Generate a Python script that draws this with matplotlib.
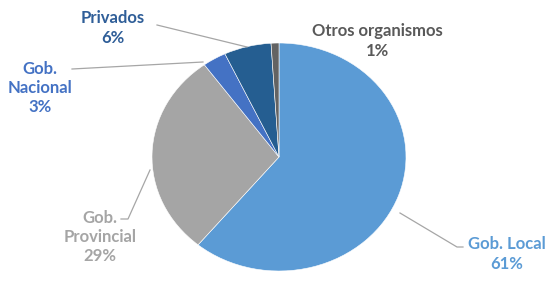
import matplotlib.pyplot as plt

# === DATI ===
categorie = ['Gob. Local', 'Gob. Provincial', 'Gob. Nacional', 'Privados', 'Otros organismos']
valori = [61, 29, 3, 6, 1]
colori = ['#5B9BD5', '#A5A5A5', '#4472C4', '#255E91', '#636363']
colori_testo = ['#5B9BD5', '#A5A5A5', '#4472C4', '#2F5E98', '#595959']
etichette = ['Gob. Local\n61%', 'Gob.\nProvincial\n29%', 'Gob.\nNacional\n3%',
             'Privados\n6%', 'Otros organismos\n1%']

W, H = 550, 299
cx, cy = 279, 157      # centro torta (pixel)
rx, ry = 127, 114      # raggi (pixel), immagine un po' stirata


def px(x, y):
    # pixel -> coordinate dati
    return (x - cx) / rx, (cy - y) / ry


fig = plt.figure(figsize=(W / 100, H / 100), dpi=100)
ax = fig.add_axes([0, 0, 1, 1])
ax.pie(valori, colors=colori, startangle=90, counterclock=False,
       wedgeprops=dict(edgecolor='white', linewidth=0.4))
ax.set_aspect('auto')
ax.set_xlim(-cx / rx, (W - cx) / rx)
ax.set_ylim(-(H - cy) / ry, cy / ry)
ax.axis('off')

# posizione testi (pixel) e linee guida
pos_testo = [(507, 254), (100, 237), (40, 88), (113, 28), (377, 41)]
linee = [
    [(400, 213), (457, 247), (463, 247)],
    [(150, 170), (128, 219), (121, 219)],
    [(203, 62), (72, 69)],
    [(247, 47), (157, 25)],
    [],
]

for i, txt in enumerate(etichette):
    x, y = px(*pos_testo[i])
    ax.text(x, y, txt, ha='center', va='center', color=colori_testo[i],
            fontsize=12, fontweight='bold', family=['Lato', 'DejaVu Sans'],
            linespacing=1.25)
    if linee[i]:
        pts = [px(a, b) for a, b in linee[i]]
        ax.plot([p[0] for p in pts], [p[1] for p in pts], color='#A6A6A6', lw=0.9)

fig.savefig('out.png', dpi=100)
